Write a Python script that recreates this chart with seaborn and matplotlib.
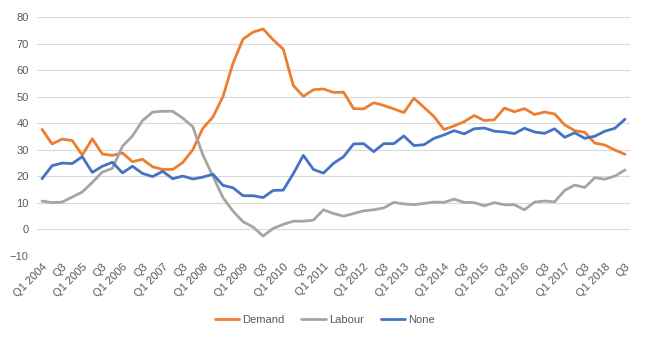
import matplotlib
matplotlib.use("Agg")
import matplotlib.pyplot as plt
import seaborn as sns
import pandas as pd
import numpy as np

years = list(range(2004, 2019))
quarters = [f"Q{q} {y}" for y in years for q in (1, 2, 3, 4)][:59]

demand = [37.7, 32.2, 34.0, 33.5, 28.0, 34.1, 28.4, 27.9, 28.8, 25.5,
          26.4, 23.6, 22.6, 22.6, 25.2, 30.0, 38.1, 42.3, 50.0, 62.6,
          71.7, 74.3, 75.5, 71.4, 67.9, 54.2, 50.1, 52.6, 52.9, 51.6,
          51.7, 45.5, 45.4, 47.7, 46.7, 45.4, 44.0, 49.4, 46.0, 42.5,
          37.6, 39.0, 40.6, 42.9, 41.0, 41.3, 45.7, 44.3, 45.5, 43.3,
          44.2, 43.5, 39.4, 37.2, 36.6, 32.5, 31.8, 29.9, 28.3]
labour = [10.7, 10.1, 10.3, 12.2, 14.1, 17.7, 21.6, 23.0, 31.3, 35.2,
          41.0, 44.2, 44.5, 44.5, 41.9, 38.7, 28.1, 20.1, 12.0, 6.9,
          2.9, 0.9, -2.5, 0.4, 1.9, 3.1, 3.1, 3.5, 7.4, 6.0,
          5.0, 6.0, 7.0, 7.4, 8.1, 10.2, 9.6, 9.3, 9.8, 10.3,
          10.2, 11.4, 10.2, 10.1, 8.9, 10.1, 9.3, 9.3, 7.4, 10.3,
          10.7, 10.4, 14.7, 16.7, 15.8, 19.5, 18.9, 20.1, 22.4]
none = [19.1, 24.0, 25.0, 24.8, 27.4, 21.5, 23.8, 25.3, 21.3, 23.8,
        21.1, 19.9, 21.9, 19.1, 20.1, 19.0, 19.7, 20.8, 16.6, 15.7,
        12.7, 12.7, 12.0, 14.7, 14.8, 21.0, 27.9, 22.6, 21.2, 24.9,
        27.4, 32.2, 32.3, 29.3, 32.3, 32.3, 35.2, 31.6, 31.9, 34.3,
        35.6, 37.2, 36.0, 37.9, 38.2, 37.0, 36.7, 36.1, 38.1, 36.7,
        36.2, 37.9, 34.7, 36.4, 34.3, 35.1, 37.0, 38.1, 41.5]

tick_labels = [q if q.startswith("Q1") else "Q3" for q in quarters[::2]]

series_names = ["Demand", "Labour", "None"]
colors = ["#ED7D31", "#A5A5A5", "#4472C4"]

df = pd.DataFrame({
    "idx": list(range(59)) * 3,
    "value": demand + labour + none,
    "series": ["Demand"] * 59 + ["Labour"] * 59 + ["None"] * 59,
})

sns.set_theme(style="white")
plt.rcParams["font.family"] = ["Liberation Sans", "DejaVu Sans"]

fig = plt.figure(figsize=(6.5, 3.4), dpi=100)
ax = fig.add_axes([37 / 650, 1 - 256 / 340, (630 - 37) / 650, (256 - 17) / 340])

sns.lineplot(data=df, x="idx", y="value", hue="series",
             palette=dict(zip(series_names, colors)), linewidth=2.0,
             ax=ax, legend=False)

ax.set_xlim(-0.5, 58.5)
ax.set_ylim(-10, 80)
ax.set_yticks(range(-10, 81, 10))
ax.set_xticks(range(0, 59, 2))
ax.set_xticklabels(tick_labels, rotation=45, ha="right", rotation_mode="anchor",
                   fontsize=8, color="#595959")
ax.tick_params(axis="y", labelsize=8, labelcolor="#595959", length=0, pad=6)
ax.tick_params(axis="x", length=0, pad=4)
ax.grid(axis="y", color="#D9D9D9", linewidth=0.8)
ax.set_axisbelow(True)
for s in ax.spines.values():
    s.set_visible(False)
ax.set_xlabel("")
ax.set_ylabel("")

from matplotlib.lines import Line2D
handles = [Line2D([0], [0], color=c, linewidth=2.0) for c in colors]
fig.legend(handles, series_names, loc="center", bbox_to_anchor=(0.5, 1 - 320 / 340),
           ncol=3, frameon=False, fontsize=8, handlelength=2.2, handletextpad=0.3,
           columnspacing=1.5, labelcolor="#595959")

fig.savefig("out.png", dpi=100, facecolor="white")
